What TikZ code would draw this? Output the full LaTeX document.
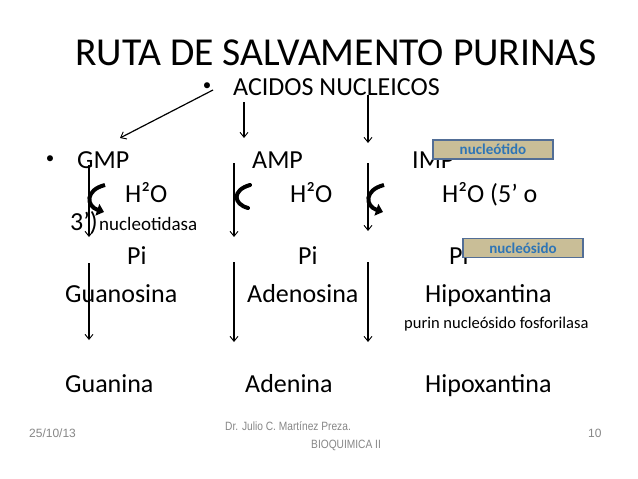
\documentclass[tikz,border=0pt]{standalone}
\usepackage{fontspec}
\setmainfont{Carlito}
\newfontfamily\footfont{Liberation Sans}
\newfontfamily\footnarrow[FakeStretch=0.85]{Liberation Sans}
\usetikzlibrary{arrows.meta}
\definecolor{tagfill}{RGB}{201,190,151}
\definecolor{tagedge}{RGB}{82,110,150}
\definecolor{tagtext}{RGB}{46,117,182}
\definecolor{footgray}{RGB}{135,135,135}
\begin{document}
\begin{tikzpicture}[x=1pt,y=-1pt,
  lbl/.style={anchor=base west,inner sep=0pt,font=\fontsize{26}{30}\selectfont},
  titlelbl/.style={anchor=base west,inner sep=0pt,font=\fontsize{39.6}{44}\selectfont},
  smalllbl/.style={anchor=base west,inner sep=0pt,font=\fontsize{19}{22}\selectfont},
  enzlbl/.style={anchor=base west,inner sep=0pt,font=\fontsize{16.5}{20}\selectfont},
  bul/.style={inner sep=0pt,anchor=base,font=\fontsize{17}{20}\selectfont},
  tagbox/.style={draw=tagedge,fill=tagfill,line width=1.4pt,inner sep=0pt,
    minimum width=120pt,minimum height=19pt,text=tagtext,
    font=\fontsize{15}{18}\selectfont\bfseries},
  footlbl/.style={anchor=base west,inner sep=0pt,text=footgray,font=\footfont\fontsize{12}{14}\selectfont},
  footnlbl/.style={anchor=base west,inner sep=0pt,text=footgray,font=\footnarrow\fontsize{12}{14}\selectfont},
  conn/.style={line width=1.2pt,-{Straight Barb[length=5pt,width=8pt,line width=0.9pt]}},
  curv/.style={line width=4pt,-{Triangle[length=7pt,width=12pt]}},
  curvplain/.style={line width=4pt,line cap=round}]
\useasboundingbox[fill=white] (0,0) rectangle (638,479);

% title
\node[titlelbl] (title) at (75,65) {RUTA DE SALVAMENTO PURINAS};
\node[bul] (b1) at (207,90) {•};
\node[lbl] (acidos) at (233,95) {ACIDOS NUCLEICOS};

% row 1
\node[bul] (b2) at (50,163) {•};
\node[lbl] (gmp) at (77,168) {GMP};
\node[lbl] (amp) at (252,168) {AMP};
\node[lbl] (imp) at (412,168) {IMP};
\node[tagbox] (tag1) at (493,149.5) {nucleótido};

% row 2
\node[lbl] (h1) at (125,202) {H²O};
\node[lbl] (h2) at (290,202) {H²O};
\node[lbl] (h3) at (442,202) {H²O (5’ o};
\node[lbl] (tres) at (70,230) {3’)};
\node[smalllbl] (nucl) at (99,230) {nucleotidasa};

% row 3
\node[lbl] (p1) at (127,264) {Pi};
\node[lbl] (p2) at (298,264) {Pi};
\node[lbl] (p3) at (449,264) {Pi};
\node[tagbox] (tag2) at (523,248) {nucleósido};

% row 4
\node[lbl] (guo) at (65,302) {Guanosina};
\node[lbl] (ado) at (247,302) {Adenosina};
\node[lbl] (hx1) at (425,302) {Hipoxantina};
\node[enzlbl] (pnp) at (404,328) {purin nucleósido fosforilasa};

% row 5
\node[lbl] (gua) at (65,392) {Guanina};
\node[lbl] (ade) at (245,392) {Adenina};
\node[lbl] (hx2) at (425,392) {Hipoxantina};

% footer
\node[footlbl] (date) at (29,437) {25/10/13};
\node[footnlbl] (dr) at (225,430) {Dr. Julio C. Martínez Preza.};
\node[footnlbl] (bq) at (311,448) {BIOQUIMICA II};
\node[footlbl] (pg) at (588,437) {10};

% connector coordinates
\coordinate (a1s) at (213,90);  \coordinate (a1e) at (120,138);
\coordinate (a2s) at (244,102); \coordinate (a2e) at (244,138);
\coordinate (a3s) at (368,95);  \coordinate (a3e) at (368,143);
\coordinate (c1s) at (89,165);  \coordinate (c1e) at (89,237);
\coordinate (c2s) at (234,163); \coordinate (c2e) at (234,237);
\coordinate (c3s) at (368,163); \coordinate (c3e) at (368,231);
\coordinate (d1s) at (89,263);  \coordinate (d1e) at (89,340);
\coordinate (d2s) at (234,262); \coordinate (d2e) at (234,342);
\coordinate (d3s) at (368,262); \coordinate (d3e) at (368,342);

\draw[conn] (a1s) -- (a1e);
\draw[conn] (a2s) -- (a2e);
\draw[conn] (a3s) -- (a3e);
\draw[conn] (c1s) -- (c1e);
\draw[conn] (c2s) -- (c2e);
\draw[conn] (c3s) -- (c3e);
\draw[conn] (d1s) -- (d1e);
\draw[conn] (d2s) -- (d2e);
\draw[conn] (d3s) -- (d3e);

% curved enzyme arrows
\draw[curv] (105,185) .. controls (85,190) and (86,206) .. (104,212);
\draw[curvplain] (250,185) .. controls (232,190) and (233,204) .. (248,208);
\draw[curv] (384,185) .. controls (364,190) and (365,206) .. (383,212);
\end{tikzpicture}
\end{document}
